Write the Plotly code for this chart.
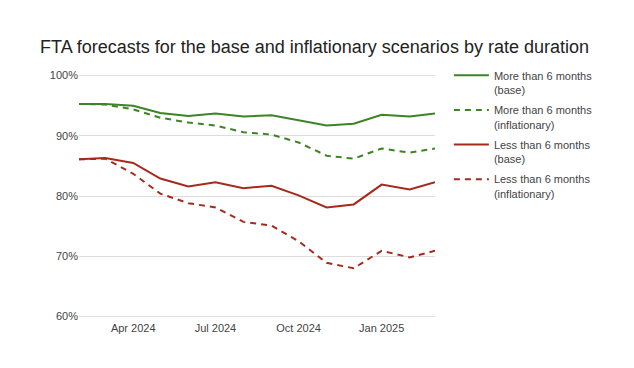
import plotly.graph_objects as go

months = ["2024-02-01", "2024-03-01", "2024-04-01", "2024-05-01", "2024-06-01", "2024-07-01",
          "2024-08-01", "2024-09-01", "2024-10-01", "2024-11-01", "2024-12-01", "2025-01-01",
          "2025-02-01", "2025-03-01"]

more_base = [95.3, 95.3, 95.0, 93.8, 93.3, 93.7, 93.2, 93.4, 92.6, 91.7, 92.0, 93.5, 93.2, 93.7]
more_infl = [95.3, 95.2, 94.4, 93.0, 92.2, 91.7, 90.6, 90.2, 88.9, 86.7, 86.2, 87.9, 87.2, 87.9]
less_base = [86.1, 86.3, 85.5, 82.9, 81.6, 82.3, 81.3, 81.7, 80.1, 78.1, 78.6, 81.9, 81.1, 82.3]
less_infl = [86.1, 86.2, 83.7, 80.4, 78.8, 78.1, 75.7, 75.1, 72.5, 68.9, 68.0, 70.9, 69.8, 70.9]

series_names = ["More than 6 months<br>(base)", "More than 6 months<br>(inflationary)",
                "Less than 6 months<br>(base)", "Less than 6 months<br>(inflationary)"]

x_tickvals = ["2024-04-01", "2024-07-01", "2024-10-01", "2025-01-01"]
x_ticktext = ["Apr 2024", "Jul 2024", "Oct 2024", "Jan 2025"]
y_tickvals = [60, 70, 80, 90, 100]
y_ticktext = ["60%", "70%", "80%", "90%", "100%"]

GREEN = "#3c8424"
RED = "#a62a1c"
GRID = "#dddddd"

# page has an 8px body margin, so the figure is 8px smaller than the window
W, H = 626, 360

fig = go.Figure()
styles = [(GREEN, "solid"), (GREEN, "dash"), (RED, "solid"), (RED, "dash")]
for name, vals, (col, dash) in zip(series_names, [more_base, more_infl, less_base, less_infl], styles):
    fig.add_trace(go.Scatter(
        x=months, y=vals, mode="lines", name=name,
        line=dict(color=col, width=2, dash="6px,5px" if dash == "dash" else "solid"),
        legendgroup=name,
    ))

# gridlines at the range edges (Plotly omits them there)
for yv in (y_tickvals[0], y_tickvals[-1]):
    fig.add_hline(y=yv, line=dict(color=GRID, width=1), layer="below")

fig.update_layout(
    width=W, height=H,
    margin=dict(l=71, r=199, t=67, b=51),
    paper_bgcolor="white", plot_bgcolor="white",
    font=dict(family="Liberation Sans, Arial, sans-serif", size=11, color="#444444"),
    title=dict(
        text="FTA forecasts for the base and inflationary scenarios by rate duration",
        x=32 / W, xanchor="left", xref="container",
        y=1 - 39 / H, yanchor="middle", yref="container",
        font=dict(size=18, color="#222222", family="Liberation Sans, Arial, sans-serif"),
    ),
    legend=dict(
        x=1.039, xanchor="left", y=1.055, yanchor="top",
        font=dict(size=11, color="#444444"),
        valign="top", tracegroupgap=3, itemwidth=35,
        bgcolor="rgba(0,0,0,0)",
    ),
    showlegend=True,
)
fig.update_xaxes(
    type="date", range=[months[0], months[-1]],
    tickvals=x_tickvals, ticktext=x_ticktext,
    showgrid=False, zeroline=False, showline=False, ticks="",
    ticklabelstandoff=3,
    tickfont=dict(size=11, color="#444444"),
)
fig.update_yaxes(
    range=[59.9, 100.1], tickvals=y_tickvals, ticktext=y_ticktext,
    showgrid=True, gridcolor=GRID, gridwidth=1, zeroline=False, showline=False,
    ticks="", tickfont=dict(size=11, color="#444444"),
)

fig.write_html("out.html")
